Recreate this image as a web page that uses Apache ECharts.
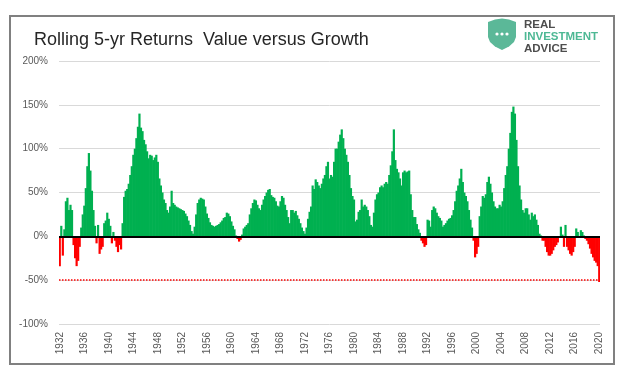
<!DOCTYPE html>
<html>
<head>
<meta charset="utf-8">
<script src="https://cdn.jsdelivr.net/npm/echarts@6/dist/echarts.min.js"></script>
<style>
html,body{margin:0;padding:0;background:#fff;}
#chart{width:624px;height:368px;}
</style>
</head>
<body>
<div id="chart"></div>
<script>
// Rolling 5-yr return, value vs growth, quarterly estimates (%), 1932 Q1 .. 2020 Q1
var startYear = 1932;
var endYear = 2020;
var v1930s = [
  -34, 12, -22, 8,     // 1932
  40, 44, 30, 36,      // 1933
  30, -10, -25, -34,   // 1934
  -28, -12, 10, 25,    // 1935
  35, 55, 80, 95,      // 1936
  75, 52, 30, 12,      // 1937
  -8, 13, -20, -15,    // 1938
  -12, 15, 18, 27      // 1939
];
var v1940s = [
  20, 12, -8, 5,       // 1940
  -5, -12, -18, -10,   // 1941
  -15, 15, 45, 52,     // 1942
  54, 60, 70, 80,      // 1943
  93, 100, 112, 125,   // 1944
  140, 124, 120, 110,  // 1945
  105, 97, 89, 93,     // 1946
  92, 87, 90, 93,      // 1947
  85, 66, 58, 50,      // 1948
  42, 38, 30, 27       // 1949
];
var v1950s = [
  34, 52, 38, 36,      // 1950
  34, 33, 32, 31,      // 1951
  30, 29, 26, 23,      // 1952
  18, 13, 6, 3,        // 1953
  11, 25, 38, 42,      // 1954
  44, 43, 42, 34,      // 1955
  26, 21, 16, 13,      // 1956
  12, 11, 12, 13,      // 1957
  14, 16, 18, 21,      // 1958
  22, 27, 26, 23       // 1959
];
var v1960s = [
  17, 12, 8, 1,        // 1960
  -3, -6, -4, 2,       // 1961
  9, 11, 13, 15,       // 1962
  25, 32, 38, 42,      // 1963
  41, 36, 32, 30,      // 1964
  36, 42, 46, 50,      // 1965
  53, 54, 47, 45,      // 1966
  44, 40, 35, 34,      // 1967
  40, 46, 44, 36,      // 1968
  30, 22, 15, 30       // 1969
];
var v1970s = [
  30, 27, 29, 24,      // 1970
  20, 15, 10, 6,       // 1971
  3, 10, 20, 28,       // 1972
  34, 58, 54, 65,      // 1973
  62, 58, 55, 60,      // 1974
  66, 70, 80, 85,      // 1975
  66, 70, 68, 85,      // 1976
  100, 100, 108, 116,  // 1977
  122, 112, 100, 93,   // 1978
  85, 70, 55, 46       // 1979
];
var v1980s = [
  42, 17, 19, 28,      // 1980
  30, 42, 34, 36,      // 1981
  34, 30, 23, 13,      // 1982
  11, 27, 42, 48,      // 1983
  50, 56, 58, 56,      // 1984
  60, 62, 60, 70,      // 1985
  81, 97, 122, 87,     // 1986
  77, 73, 66, 58,      // 1987
  73, 75, 73, 74,      // 1988
  75, 48, 30, 22       // 1989
];
var v1990s = [
  22, 14, 8, 4,        // 1990
  -5, -8, -12, -10,    // 1991
  19, 18, 11, 30,      // 1992
  34, 32, 27, 23,      // 1993
  21, 18, 11, 13,      // 1994
  15, 18, 20, 21,      // 1995
  24, 30, 40, 52,      // 1996
  58, 66, 77, 62,      // 1997
  50, 46, 40, 30,      // 1998
  19, 10, -5, -24      // 1999
];
var v2000s = [
  -20, -12, 23, 34,    // 2000
  46, 44, 48, 62,      // 2001
  68, 60, 50, 40,      // 2002
  34, 32, 32, 36,      // 2003
  34, 40, 55, 70,      // 2004
  80, 100, 118, 142,   // 2005
  148, 140, 110, 80,   // 2006
  58, 42, 30, 27,      // 2007
  32, 32, 25, 19,      // 2008
  27, 23, 25, 19       // 2009
];
var v2010s = [
  13, 3, 1, -5,        // 2010
  -5, -12, -18, -22,   // 2011
  -22, -20, -16, -12,  // 2012
  -10, -7, -1, 11,     // 2013
  2, -12, 13, -12,     // 2014
  -16, -20, -22, -18,  // 2015
  -12, 9, 5, -1,       // 2016
  7, 5, 1, -3,         // 2017
  -5, -9, -14, -20,    // 2018
  -24, -28, -30, -34   // 2019
];
var v2020s = [-52];    // 2020 Q1

var yTicks = [-100, -50, 0, 50, 100, 150, 200];
var zeroLine = 0;
var floorLine = -50;
var labelEveryYears = 4;

var values = [].concat(v1930s, v1940s, v1950s, v1960s, v1970s, v1980s, v1990s, v2000s, v2010s, v2020s);
var categories = [];
for (var i = 0; i < values.length; i++) {
  var yr = startYear + Math.floor(i / 4);
  categories.push(i % 4 === 0 ? String(yr) : yr + 'Q' + (i % 4 + 1));
}

var chart = echarts.init(document.getElementById('chart'), null, {renderer: 'canvas'});
var option = {
  animation: false,
  backgroundColor: '#ffffff',
  grid: {left: 59, right: 24, top: 61, bottom: 44, containLabel: false},
  title: {
    text: 'Rolling 5-yr Returns  Value versus Growth',
    left: 29, top: 26,
    textStyle: {fontFamily: 'Liberation Sans, Arial, sans-serif', fontSize: 18, fontWeight: 'normal', color: '#262626'}
  },
  xAxis: {
    type: 'category',
    data: categories,
    boundaryGap: true,
    axisLine: {show: false},
    axisTick: {show: false},
    splitLine: {show: false},
    axisLabel: {
      rotate: 90,
      margin: 8,
      fontSize: 10,
      color: '#595959',
      fontFamily: 'Liberation Sans, Arial, sans-serif',
      interval: function (index) { return index % (labelEveryYears * 4) === 0; }
    }
  },
  yAxis: {
    type: 'value',
    min: yTicks[0],
    max: yTicks[yTicks.length - 1],
    interval: 50,
    axisLine: {show: false},
    axisTick: {show: false},
    splitLine: {lineStyle: {color: '#d9d9d9', width: 1}},
    axisLabel: {
      formatter: '{value}%',
      fontSize: 10,
      color: '#595959',
      margin: 11,
      fontFamily: 'Liberation Sans, Arial, sans-serif'
    }
  },
  series: [{
    type: 'bar',
    data: values,
    barWidth: 2.2,
    barGap: '-100%',
    itemStyle: {
      color: function (p) { return p.value >= 0 ? '#00b050' : '#ff0000'; }
    },
    markLine: {
      silent: true,
      symbol: ['none', 'none'],
      label: {show: false},
      z: 10,
      data: [
        {yAxis: zeroLine, lineStyle: {color: '#000000', width: 2, type: 'solid'}},
        {yAxis: floorLine, lineStyle: {color: '#ff0000', width: 1.5, type: 'dotted'}}
      ]
    }
  }],
  graphic: [
    {type: 'rect', shape: {x: 10, y: 16, width: 604, height: 348}, style: {fill: 'none', stroke: '#808080', lineWidth: 2}, z: 100},
    {type: 'polygon', shape: {points: [[488, 22], [495, 19.5], [502, 18.5], [509, 19.5], [516, 22], [516, 37], [514, 42], [509, 46.5], [502, 50], [495, 46.5], [490, 42], [488, 37]]},
     style: {fill: '#5bb898'}},
    {type: 'circle', shape: {cx: 497, cy: 34, r: 1.6}, style: {fill: '#ffffff'}},
    {type: 'circle', shape: {cx: 502, cy: 34, r: 1.6}, style: {fill: '#ffffff'}},
    {type: 'circle', shape: {cx: 507, cy: 34, r: 1.6}, style: {fill: '#ffffff'}},
    {type: 'text', left: 524, top: 19, style: {text: 'REAL', font: 'bold 11.5px Liberation Sans, Arial, sans-serif', fill: '#4d4d4d'}},
    {type: 'text', left: 524, top: 31, style: {text: 'INVESTMENT', font: 'bold 11.5px Liberation Sans, Arial, sans-serif', fill: '#4db894'}},
    {type: 'text', left: 524, top: 43, style: {text: 'ADVICE', font: 'bold 11.5px Liberation Sans, Arial, sans-serif', fill: '#4d4d4d'}}
  ]
};
chart.setOption(option);
</script>
</body>
</html>
